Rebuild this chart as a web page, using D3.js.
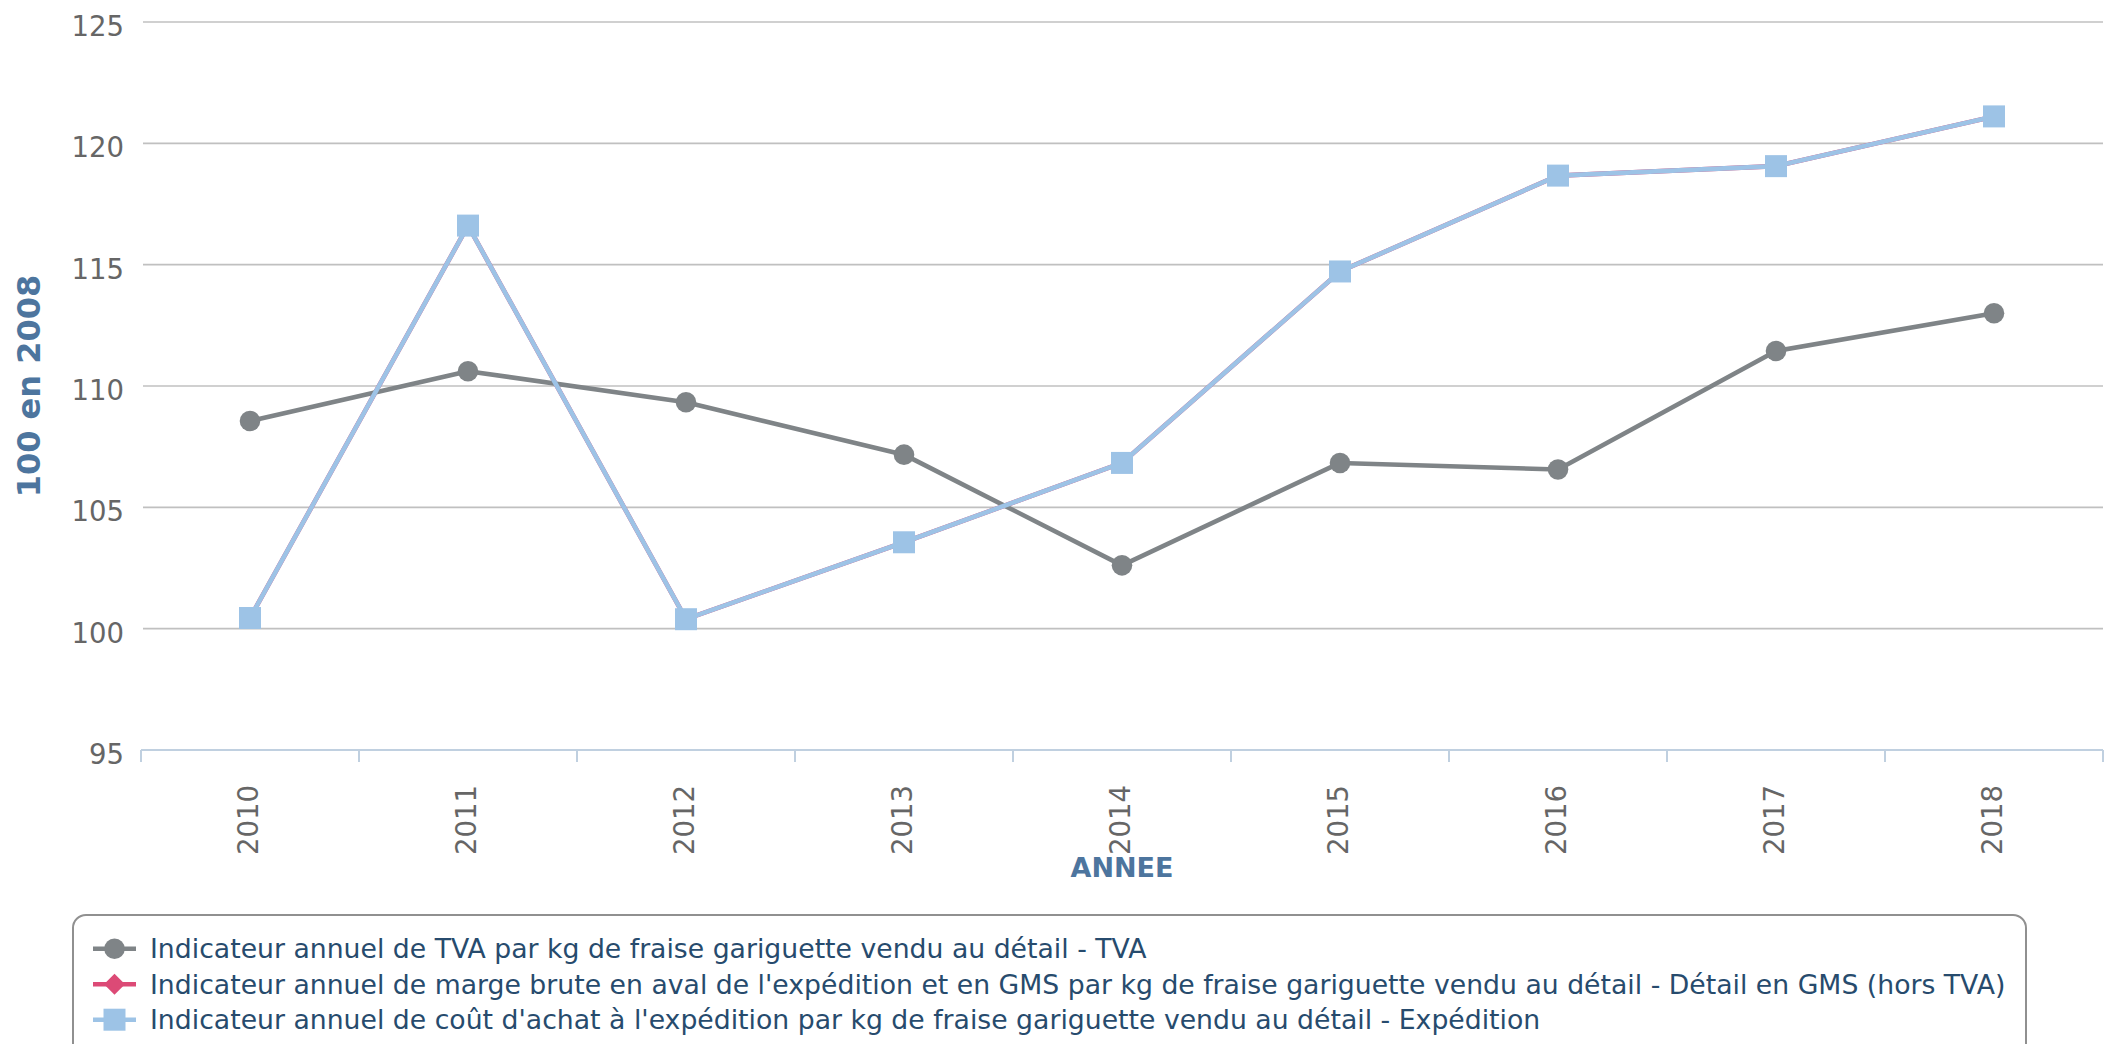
<!DOCTYPE html>
<html>
<head>
<meta charset="utf-8">
<script src="https://cdn.jsdelivr.net/npm/d3@7"></script>
<style>
  body { margin: 0; background: #fff; }
  svg { display: block; font-family: "DejaVu Sans", sans-serif; }
</style>
</head>
<body>
<div id="chart"></div>
<script>
// data
var years = ["2010", "2011", "2012", "2013", "2014", "2015", "2016", "2017", "2018"];
var tva = [108.56, 110.61, 109.33, 107.17, 102.61, 106.83, 106.56, 111.44, 113.0];
var margeGms = [100.44, 116.61, 100.39, 103.56, 106.83, 114.72, 118.67, 119.06, 121.11];
var expedition = [100.44, 116.61, 100.39, 103.56, 106.83, 114.72, 118.67, 119.06, 121.11];
var yTicks = [95, 100, 105, 110, 115, 120, 125];

var seriesNames = [
  "Indicateur annuel de TVA par kg de fraise gariguette vendu au détail - TVA",
  "Indicateur annuel de marge brute en aval de l'expédition et en GMS par kg de fraise gariguette vendu au détail - Détail en GMS (hors TVA)",
  "Indicateur annuel de coût d'achat à l'expédition par kg de fraise gariguette vendu au détail - Expédition"
];
var colors = ["#7f8487", "#dc4a76", "#9dc3e6"];

var W = 2116, H = 1044;
var plotLeft = 141, plotRight = 2103, plotTop = 22, plotBottom = 750;

var svg = d3.select("#chart").append("svg")
  .attr("width", W)
  .attr("height", H);

var x = d3.scaleBand().domain(years).range([plotLeft, plotRight]);
var y = d3.scaleLinear().domain([95, 125]).range([plotBottom, plotTop]);

function cx(i) { return x(years[i]) + x.bandwidth() / 2; }

// marker shapes: circle, diamond (square turned 45deg), square
function marker(sel, kind, color) {
  if (kind === 0) {
    sel.append("circle").attr("r", 10.3).attr("fill", color);
  } else if (kind === 1) {
    sel.append("path")
      .attr("d", d3.symbol().type(d3.symbolSquare).size(220))
      .attr("transform", "rotate(45)")
      .attr("fill", color);
  } else {
    sel.append("path")
      .attr("d", d3.symbol().type(d3.symbolSquare).size(22 * 22))
      .attr("fill", color);
  }
}

// grid lines
svg.append("g")
  .selectAll("line")
  .data(yTicks.filter(function(d) { return d > 95; }))
  .enter().append("line")
  .attr("x1", plotLeft + 2).attr("x2", plotRight)
  .attr("y1", function(d) { return y(d); })
  .attr("y2", function(d) { return y(d); })
  .attr("stroke", "#c0c0c0")
  .attr("stroke-width", 1.6);

// y labels
svg.append("g")
  .selectAll("text")
  .data(yTicks)
  .enter().append("text")
  .attr("x", 124)
  .attr("y", function(d) { return y(d) + 14; })
  .attr("text-anchor", "end")
  .attr("fill", "#666")
  .style("font-size", "27.5px")
  .text(function(d) { return d; });

// x axis line + ticks
var xAxis = svg.append("g");
xAxis.append("line")
  .attr("x1", plotLeft).attr("x2", plotRight)
  .attr("y1", plotBottom).attr("y2", plotBottom)
  .attr("stroke", "#c0d0e0")
  .attr("stroke-width", 2);
var bounds = years.map(function(d) { return x(d); }).concat([plotRight]);
xAxis.selectAll("line.tick")
  .data(bounds)
  .enter().append("line")
  .attr("class", "tick")
  .attr("x1", function(d) { return d; })
  .attr("x2", function(d) { return d; })
  .attr("y1", plotBottom)
  .attr("y2", plotBottom + 12)
  .attr("stroke", "#c0d0e0")
  .attr("stroke-width", 2);

xAxis.selectAll("text")
  .data(years)
  .enter().append("text")
  .attr("transform", function(d, i) {
    return "translate(" + (cx(i) - 2) + "," + 785 + ") rotate(-90)";
  })
  .attr("dy", "0.35em")
  .attr("text-anchor", "end")
  .attr("fill", "#666")
  .style("font-size", "27.5px")
  .text(function(d) { return d; });

// axis titles
svg.append("text")
  .attr("x", (plotLeft + plotRight) / 2)
  .attr("y", 877)
  .attr("text-anchor", "middle")
  .attr("fill", "#4d759e")
  .style("font-size", "27px")
  .style("font-weight", "bold")
  .text("ANNEE");

svg.append("text")
  .attr("transform", "translate(40," + (plotTop + plotBottom) / 2 + ") rotate(-90)")
  .attr("text-anchor", "middle")
  .attr("fill", "#4d759e")
  .style("font-size", "32px")
  .style("font-weight", "bold")
  .text("100 en 2008");

// series
var allSeries = [tva, margeGms, expedition];
var line = d3.line()
  .x(function(d, i) { return cx(i); })
  .y(function(d) { return y(d); });

var order = [1, 0, 2]; // pink sits under the blue one
order.forEach(function(k) {
  var g = svg.append("g");
  g.append("path")
    .datum(allSeries[k])
    .attr("d", line)
    .attr("fill", "none")
    .attr("stroke", colors[k])
    .attr("stroke-width", 4.6)
    .attr("stroke-linejoin", "round");
  if (k === 1) return;
  g.selectAll("g.pt")
    .data(allSeries[k])
    .enter().append("g")
    .attr("class", "pt")
    .attr("transform", function(d, i) {
      return "translate(" + cx(i) + "," + y(d) + ")";
    })
    .each(function() { marker(d3.select(this), k, colors[k]); });
});

// legend
var legend = svg.append("g");
legend.append("rect")
  .attr("x", 73).attr("y", 915)
  .attr("width", 1953).attr("height", 160)
  .attr("rx", 13).attr("ry", 13)
  .attr("fill", "#fff")
  .attr("stroke", "#909090")
  .attr("stroke-width", 2);

var rowY = [948.7, 984.3, 1019.7];
seriesNames.forEach(function(name, i) {
  var row = legend.append("g");
  row.append("line")
    .attr("x1", 93).attr("x2", 136)
    .attr("y1", rowY[i]).attr("y2", rowY[i])
    .attr("stroke", colors[i])
    .attr("stroke-width", 4.6);
  marker(row.append("g").attr("transform", "translate(114.5," + rowY[i] + ")"), i, colors[i]);
  row.append("text")
    .attr("x", 150)
    .attr("y", rowY[i])
    .attr("dy", "0.35em")
    .attr("fill", "#274b6d")
    .style("font-size", "26.7px")
    .text(name);
});
</script>
</body>
</html>
